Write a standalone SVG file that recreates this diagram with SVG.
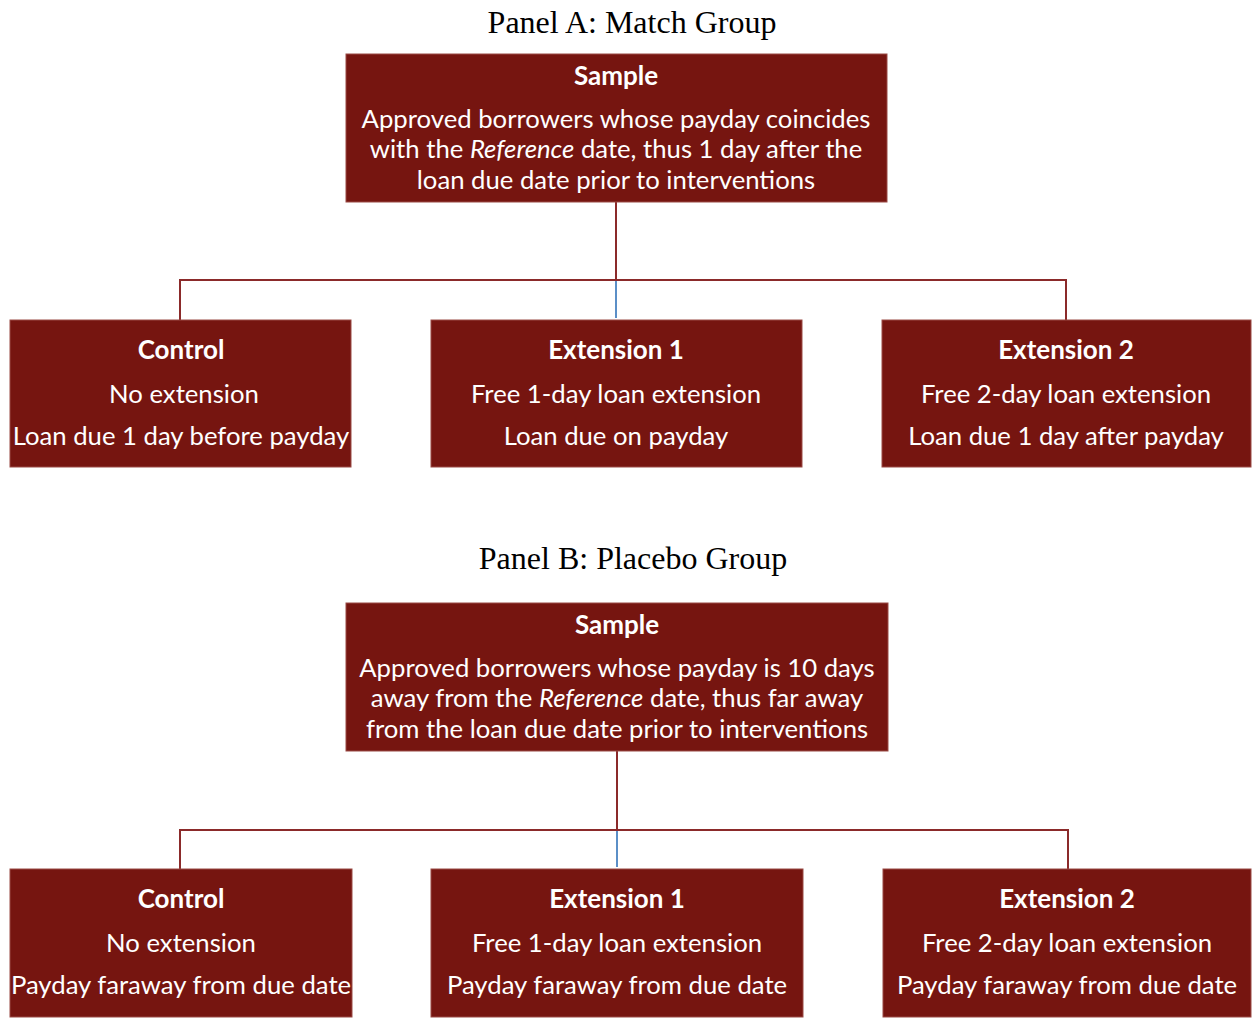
<svg xmlns="http://www.w3.org/2000/svg" width="1252" height="1024" viewBox="0 0 1252 1024">
<style>
.title{font-family:"Liberation Serif","Times New Roman",serif;font-size:32px;fill:#000;text-anchor:middle}
.box{fill:#761510;stroke:#9a4a45;stroke-width:1}
.t{font-family:Lato,"Open Sans",sans-serif;font-size:25.7px;fill:#fff;text-anchor:middle;dominant-baseline:central}
.b{font-weight:bold;font-size:26px}
.c{fill:none;stroke:#8b2a2a;stroke-width:2}
.blue{fill:none;stroke:#5b8fc7;stroke-width:2}
</style>
<rect width="1252" height="1024" fill="#fff"/>
<text class="title" x="632" y="33">Panel A: Match Group</text>
<text class="title" x="633" y="569">Panel B: Placebo Group</text>
<g id="connectors">
<path class="c" d="M616 202V280M180 320V280H1066V320"/>
<path class="blue" d="M616 281V318"/>
<path class="c" d="M617 751V830M180 869V830H1068V869"/>
<path class="blue" d="M617 831V867"/>
</g>
<g id="sampleA">
<rect class="box" x="346" y="54" width="541" height="148"/>
<text class="t b" x="616" y="75">Sample</text>
<text class="t" x="616" y="118">Approved borrowers whose payday coincides</text>
<text class="t" x="616" y="148">with the <tspan font-style="italic">Reference</tspan> date, thus 1 day after the</text>
<text class="t" x="616" y="179">loan due date prior to interventions</text>
</g>
<g id="controlA">
<rect class="box" x="10" y="320" width="341" height="147"/>
<text class="t b" x="181" y="349">Control</text>
<text class="t" x="184" y="393">No extension</text>
<text class="t" x="181" y="435">Loan due 1 day before payday</text>
</g>
<g id="ext1A">
<rect class="box" x="431" y="320" width="371" height="147"/>
<text class="t b" x="616" y="349">Extension 1</text>
<text class="t" x="616" y="393">Free 1-day loan extension</text>
<text class="t" x="616" y="435">Loan due on payday</text>
</g>
<g id="ext2A">
<rect class="box" x="882" y="320" width="369" height="147"/>
<text class="t b" x="1066" y="349">Extension 2</text>
<text class="t" x="1066" y="393">Free 2-day loan extension</text>
<text class="t" x="1066" y="435">Loan due 1 day after payday</text>
</g>
<g id="sampleB">
<rect class="box" x="346" y="603" width="542" height="148"/>
<text class="t b" x="617" y="624">Sample</text>
<text class="t" x="617" y="667">Approved borrowers whose payday is 10 days</text>
<text class="t" x="617" y="697">away from the <tspan font-style="italic">Reference</tspan> date, thus far away</text>
<text class="t" x="617" y="728">from the loan due date prior to interventions</text>
</g>
<g id="controlB">
<rect class="box" x="10" y="869" width="342" height="148"/>
<text class="t b" x="181" y="898">Control</text>
<text class="t" x="181" y="942">No extension</text>
<text class="t" x="181" y="984">Payday faraway from due date</text>
</g>
<g id="ext1B">
<rect class="box" x="431" y="869" width="372" height="148"/>
<text class="t b" x="617" y="898">Extension 1</text>
<text class="t" x="617" y="942">Free 1-day loan extension</text>
<text class="t" x="617" y="984">Payday faraway from due date</text>
</g>
<g id="ext2B">
<rect class="box" x="883" y="869" width="368" height="148"/>
<text class="t b" x="1067" y="898">Extension 2</text>
<text class="t" x="1067" y="942">Free 2-day loan extension</text>
<text class="t" x="1067" y="984">Payday faraway from due date</text>
</g>
</svg>
